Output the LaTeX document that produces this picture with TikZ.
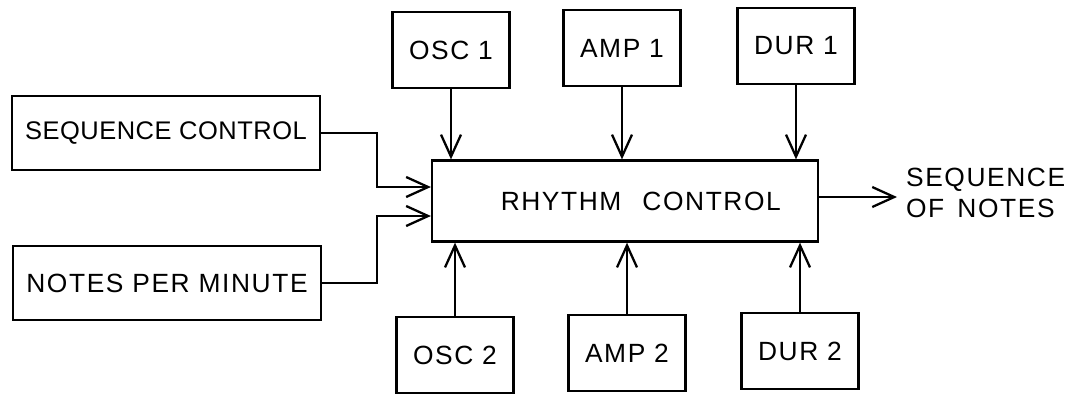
\documentclass[tikz,border=0pt]{standalone}
\usepackage{fontspec}
\setmainfont{Liberation Sans}[LetterSpace=6]
\usetikzlibrary{arrows.meta}
\begin{document}
\begin{tikzpicture}[
    x=0.02cm, y=-0.02cm,
    >={Straight Barb[length=4.4mm, width=4mm, line width=1.3pt]},
    box/.style={
        draw=black,
        line width=1.3pt,
        inner sep=0pt,
        align=center,
        font=\fontsize{15}{18}\selectfont
    },
    unit/.style={box, minimum width=2.34cm, minimum height=1.52cm},
    wide/.style={box, minimum width=6.16cm, minimum height=1.48cm},
    arr/.style={->, line width=1.3pt, draw=black}
]
    \useasboundingbox (0,0) rectangle (1082,397);

    % inputs on the left
    \node[wide, font=\fontsize{14.5}{18}\selectfont\addfontfeatures{LetterSpace=2}]
        (seq) at (166,133) {SEQUENCE CONTROL};
    \node[wide] (npm) at (167,283) {NOTES PER MINUTE};

    \node[box, minimum width=7.72cm, minimum height=1.62cm] (rhythm) at (625,201)
        {\hspace{1.2em}RHYTHM\hspace{0.8em}CONTROL};

    % voice boxes above and below
    \node[unit] (osc1) at (451,50) {OSC 1};
    \node[unit] (amp1) at (622,48) {AMP 1};
    \node[unit] (dur1) at (796,46) {DUR 1};
    \node[unit] (osc2) at (455,355) {OSC 2};
    \node[unit] (amp2) at (627,353) {AMP 2};
    \node[unit] (dur2) at (800,351) {DUR 2};

    \coordinate (jointop) at (377,187);
    \coordinate (joinbot) at (377,216);
    \coordinate (out) at (897,197);

    \node[box, draw=none, anchor=west, align=left,
          font=\fontsize{15}{17.6}\selectfont] (notes) at (905,193)
        {SEQUENCE\\OF\hspace{0.5em}NOTES};

    \draw[arr] (seq.east) -| (jointop) -- (jointop -| rhythm.west);
    \draw[arr] (npm.east) -| (joinbot) -- (joinbot -| rhythm.west);

    \foreach \v in {osc1, amp1, dur1}
        \draw[arr] (\v) -- (\v |- rhythm.north);
    \foreach \v in {osc2, amp2, dur2}
        \draw[arr] (\v) -- (\v |- rhythm.south);

    \draw[arr] (rhythm.east |- out) -- (out);
\end{tikzpicture}
\end{document}
